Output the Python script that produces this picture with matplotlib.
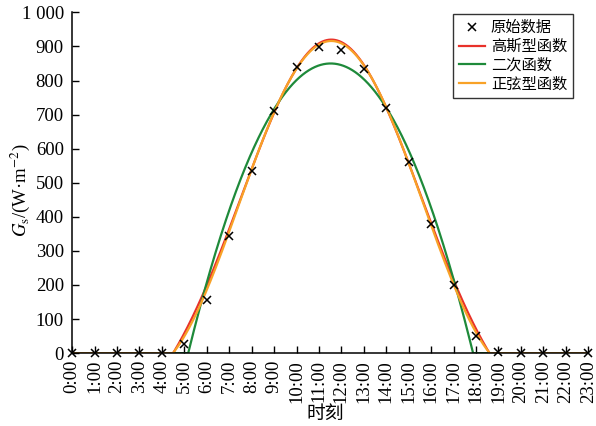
import numpy as np
import matplotlib
matplotlib.use("Agg")
import matplotlib.pyplot as plt

plt.rcParams['font.family'] = ['Liberation Serif', 'Noto Sans CJK SC']
plt.rcParams['mathtext.fontset'] = 'stix'

# raw data
hours = list(range(24))
hour_labels = ["%d:00" % h for h in hours]
raw_values = [0, 0, 0, 0, 0, 28, 155, 345, 535, 710, 840, 897, 890, 835,
              718, 560, 380, 200, 50, 3, 0, 0, 0, 0]

# fitted model parameters (estimated from the curves)
gauss_a, gauss_mu, gauss_s, gauss_c = 1167, 11.55, 4.0, -247
quad_peak, quad_mu, quad_k = 850, 11.52, 21.1
sine_a, sine_mu, sine_w, sine_c = 483, 11.55, 0.38, 433

t = np.linspace(0, 23, 2000)
gauss = np.clip(gauss_a * np.exp(-(t - gauss_mu) ** 2 / (2 * gauss_s ** 2)) + gauss_c, 0, None)
quad = np.clip(quad_peak - quad_k * (t - quad_mu) ** 2, 0, None)
sine = np.where(np.abs(t - sine_mu) < np.pi / sine_w,
                sine_a * np.cos(sine_w * (t - sine_mu)) + sine_c, 0)
sine = np.clip(sine, 0, None)

fig = plt.figure(figsize=(5.96, 4.26), dpi=100)
ax = fig.add_axes([0.121, 0.171, 0.866, 0.80])

ax.plot(hours, raw_values, 'x', color='black', markersize=6, mew=1.1,
        label='原始数据', clip_on=False, zorder=5)
ax.plot(t, gauss, color='#e8312a', lw=1.6, label='高斯型函数')
ax.plot(t, quad, color='#1e8a3a', lw=1.6, label='二次函数')
ax.plot(t, sine, color='#f8a227', lw=1.6, label='正弦型函数')

ax.set_xlim(0, 23)
ax.set_ylim(0, 1000)
ax.set_xticks(hours)
ax.set_xticklabels(hour_labels, rotation=90)
yt = list(range(0, 1001, 100))
ax.set_yticks(yt)
ax.set_yticklabels(["1 000" if v == 1000 else str(v) for v in yt])
ax.tick_params(direction='in', length=5, width=1, labelsize=13.5)
ax.tick_params(axis='y', pad=6)
ax.tick_params(axis='x', pad=5)
for s in ['top', 'right']:
    ax.spines[s].set_visible(False)
for s in ['left', 'bottom']:
    ax.spines[s].set_linewidth(1.1)

ax.set_xlabel('时刻', fontsize=13.5, va='top')
ax.xaxis.set_label_coords(0.49, -0.155)
ax.set_ylabel(r'$G_\mathrm{s}$/(W·m$^{-2}$)', fontsize=13.5)
ax.yaxis.set_label_coords(-0.078, 0.478)

leg = ax.legend(loc='upper right', bbox_to_anchor=(0.971, 0.994), fontsize=11,
                frameon=True, fancybox=False, edgecolor='black',
                handlelength=1.7, handletextpad=0.4, borderpad=0.4,
                labelspacing=0.3, borderaxespad=0)
leg.get_frame().set_linewidth(1.0)

fig.savefig('out.png', dpi=100)
